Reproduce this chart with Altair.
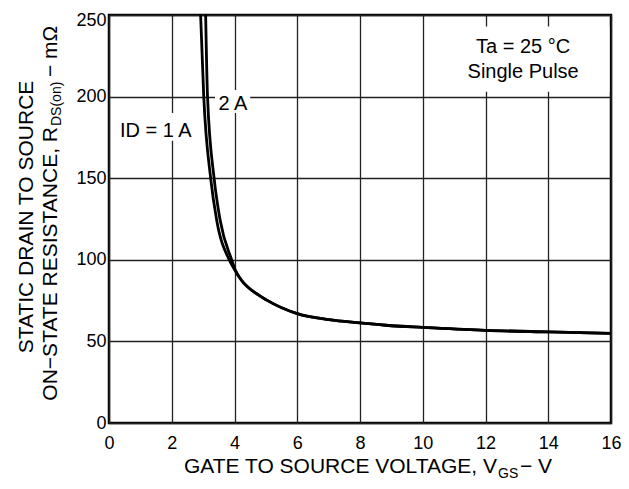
import altair as alt
import pandas as pd

FONT = "Liberation Sans"

# ---- data ----
vgs_1a = [2.92, 3.02, 3.24, 3.43, 3.83, 4.00, 4.21, 4.75, 5.0, 6.0, 7.0, 8.0, 9.0, 10.0, 12.0, 14.0, 16.0]
rds_1a = [250, 200, 150, 124.5, 100, 94.0, 87.8, 78.6, 75.6, 67.0, 63.3, 61.3, 59.6, 58.6, 56.8, 55.8, 54.9]
vgs_2a = [3.08, 3.14, 3.35, 3.54, 3.91, 4.03, 4.21, 4.75, 5.0, 6.0, 7.0, 8.0, 9.0, 10.0, 12.0, 14.0, 16.0]
rds_2a = [250, 200, 150, 124.5, 100, 93.5, 87.8, 78.6, 75.6, 67.0, 63.3, 61.3, 59.6, 58.6, 56.8, 55.8, 54.9]

x_ticks = [0, 2, 4, 6, 8, 10, 12, 14, 16]
y_ticks = [0, 50, 100, 150, 200, 250]

# annotation texts (data coordinates)
ann_text = ["ID = 1 A", "2 A", "Ta = 25 °C", "Single Pulse"]
ann_x = [0.35, 3.49, 13.2, 13.2]
ann_y = [175.4, 192.0, 226.8, 211.5]
ann_align = ["left", "left", "center", "center"]

# white backgrounds behind annotations (data coordinates)
box_x1 = [0.2, 3.38, 11.3]
box_x2 = [2.75, 4.5, 15.95]
box_y1 = [173.0, 190.0, 203.0]
box_y2 = [190.0, 204.0, 243.0]

W, H = 502, 408

curves = pd.DataFrame({
    "vgs": vgs_1a + vgs_2a,
    "rds": rds_1a + rds_2a,
    "id": ["1 A"] * len(vgs_1a) + ["2 A"] * len(vgs_2a),
})
ann = pd.DataFrame({"x": ann_x, "y": ann_y, "t": ann_text, "a": ann_align})
boxes = pd.DataFrame({"x1": box_x1, "x2": box_x2, "y1": box_y1, "y2": box_y2})

xs = alt.Scale(domain=[0, 16], nice=False, zero=False)
ys = alt.Scale(domain=[0, 250], nice=False)

xax = alt.Axis(values=x_ticks, title=None, grid=True, labelFlush=False, labelPadding=11)
yax = alt.Axis(values=y_ticks, title=None, grid=True, labelFlush=False, labelPadding=3,
               labelOffset=alt.ExprRef("datum.value == 250 ? 5 : 0"))

base_lines = alt.Chart(curves).mark_line(
    color="black", strokeWidth=2.8, interpolate="monotone", clip=True
).encode(
    x=alt.X("vgs:Q", scale=xs, axis=xax),
    y=alt.Y("rds:Q", scale=ys, axis=yax),
    detail="id:N",
)

rects = alt.Chart(boxes).mark_rect(color="white").encode(
    x=alt.X("x1:Q", scale=xs), x2="x2:Q",
    y=alt.Y("y1:Q", scale=ys), y2="y2:Q",
)

ann_left = alt.Chart(ann[ann.a == "left"]).mark_text(
    font=FONT, fontSize=20, align="left", baseline="alphabetic", color="black"
).encode(x=alt.X("x:Q", scale=xs), y=alt.Y("y:Q", scale=ys), text="t:N")

ann_center = alt.Chart(ann[ann.a == "center"]).mark_text(
    font=FONT, fontSize=20, align="center", baseline="alphabetic", color="black"
).encode(x=alt.X("x:Q", scale=xs), y=alt.Y("y:Q", scale=ys), text="t:N")

# ---- axis titles built from pieces (main text + subscript) ----
one = pd.DataFrame({"d": [0]})

def piece(text, x, y, size, align, angle=0):
    kw = dict(font=FONT, fontSize=size, align=align, baseline="alphabetic", color="black")
    if angle:
        kw["angle"] = angle
    return alt.Chart(one).mark_text(text=text, **kw).encode(x=alt.value(x), y=alt.value(y))

xt_main = piece("GATE TO SOURCE VOLTAGE, V", 388, 458, 21, "right")
xt_sub = piece("GS", 389, 463, 14, "left")
xt_end = piece(" \u2212 V", 411, 458, 21, "left")

yt_line1 = piece("STATIC DRAIN TO SOURCE", -76, 202, 21, "center", 270)
yt_main = piece("ON\u2212STATE RESISTANCE, R", -52, 112, 21, "right", 270)
yt_sub = piece("DS(on)", -48, 111, 14, "left", 270)
yt_end = piece(" \u2212 m\u03a9", -52, 62, 21, "left", 270)

chart = alt.layer(
    rects, base_lines, ann_left, ann_center,
    xt_main, xt_sub, xt_end, yt_line1, yt_main, yt_sub, yt_end,
).properties(
    width=W, height=H,
    autosize=alt.AutoSizeParams(type="none"),
    padding={"left": 101, "top": 7, "right": 10, "bottom": 57},
).configure_view(
    stroke="black", strokeWidth=2.5
).configure_axis(
    domain=False, ticks=False,
    gridColor="#222222", gridWidth=1.3, gridOpacity=1,
    labelFont=FONT, labelFontSize=18, labelColor="black",
)

chart.save("out.html", embed_options={"renderer": "svg", "actions": False})
